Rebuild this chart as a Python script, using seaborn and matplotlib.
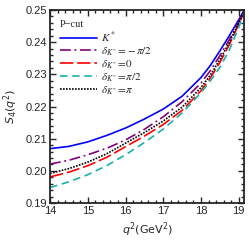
import numpy as np
import pandas as pd
import matplotlib
matplotlib.use("Agg")
import matplotlib.pyplot as plt
from matplotlib.ticker import MultipleLocator, FormatStrFormatter
import seaborn as sns

# q^2 grid (GeV^2) and S4 values
q2 = [14.0, 14.5, 15.0, 15.5, 16.0, 16.5, 17.0, 17.5, 18.0, 18.25, 18.5, 18.75, 19.0, 19.14]
s4_kstar = [0.2069, 0.2076, 0.2090, 0.2110, 0.2133, 0.2161, 0.2192, 0.2232,
            0.2290, 0.2328, 0.2373, 0.2420, 0.2470, 0.2498]
s4_m_pi2 = [0.2021, 0.2033, 0.2050, 0.2070, 0.2096, 0.2129, 0.2168, 0.2215,
            0.2273, 0.2312, 0.2358, 0.2408, 0.2463, 0.2496]
s4_zero = [0.1981, 0.1996, 0.2016, 0.2042, 0.2075, 0.2108, 0.2144, 0.2188,
           0.2249, 0.2289, 0.2337, 0.2392, 0.2456, 0.2493]
s4_p_pi2 = [0.1948, 0.1966, 0.1988, 0.2016, 0.2050, 0.2088, 0.2130, 0.2180,
            0.2243, 0.2280, 0.2322, 0.2375, 0.2446, 0.2490]
s4_pi = [0.1992, 0.2007, 0.2027, 0.2053, 0.2086, 0.2119, 0.2155, 0.2198,
         0.2259, 0.2298, 0.2346, 0.2399, 0.2460, 0.2494]

labels = [r"$K^*$", r"$\delta_{K^*}\!=\!-\pi/2$", r"$\delta_{K^*}\!=\!0$",
          r"$\delta_{K^*}\!=\!\pi/2$", r"$\delta_{K^*}\!=\!\pi$"]

series = [
    (s4_kstar, labels[0], "#0000ff", "-"),
    (s4_m_pi2, labels[1], "#800080", (0, (6.5, 2.2, 1.1, 2.2))),
    (s4_zero, labels[2], "#ff0000", (0, (8, 2.3))),
    (s4_p_pi2, labels[3], "#17b0b0", (0, (4.5, 2.8))),
    (s4_pi, labels[4], "#000000", (0, (1, 0.8))),
]

sns.set_style("ticks")
plt.rcParams["font.family"] = ["Liberation Sans", "DejaVu Sans"]

fig = plt.figure(figsize=(2.49, 2.44), dpi=100)
ax = fig.add_axes([0.201, 0.168, 0.779, 0.791])

for vals, lab, col, ls in series:
    df = pd.DataFrame({"q2": q2, "s4": vals})
    sns.lineplot(data=df, x="q2", y="s4", ax=ax, color=col, linestyle=ls,
                 linewidth=1.2, label=lab)

ax.set_xlim(14, 19.14)
ax.set_ylim(0.19, 0.25)
ax.xaxis.set_major_locator(MultipleLocator(1))
ax.xaxis.set_minor_locator(MultipleLocator(0.2))
ax.yaxis.set_major_locator(MultipleLocator(0.01))
ax.yaxis.set_minor_locator(MultipleLocator(0.002))
ax.yaxis.set_major_formatter(FormatStrFormatter("%.2f"))
ax.tick_params(which="both", direction="in", top=True, right=True,
               width=1.0, labelsize=8, pad=2)
ax.tick_params(which="major", length=4)
ax.tick_params(which="minor", length=2)
for sp in ax.spines.values():
    sp.set_linewidth(1.3)

ax.set_xlabel(r"$q^2(\mathrm{GeV}^2)$", fontsize=8, labelpad=3)
ax.set_ylabel(r"$S_4(q^2)$", fontsize=8, labelpad=4)

leg = ax.legend(loc="upper left", frameon=False, title="P\u2212cut",
                alignment="left", handlelength=3.3, handletextpad=0.4,
                labelspacing=0.05, borderaxespad=0.5,
                prop={"family": "Liberation Serif", "size": 8,
                      "math_fontfamily": "stix"})
leg.get_title().set_fontfamily("Liberation Serif")
leg.get_title().set_fontsize(7.5)

fig.savefig("out.png", dpi=100)
